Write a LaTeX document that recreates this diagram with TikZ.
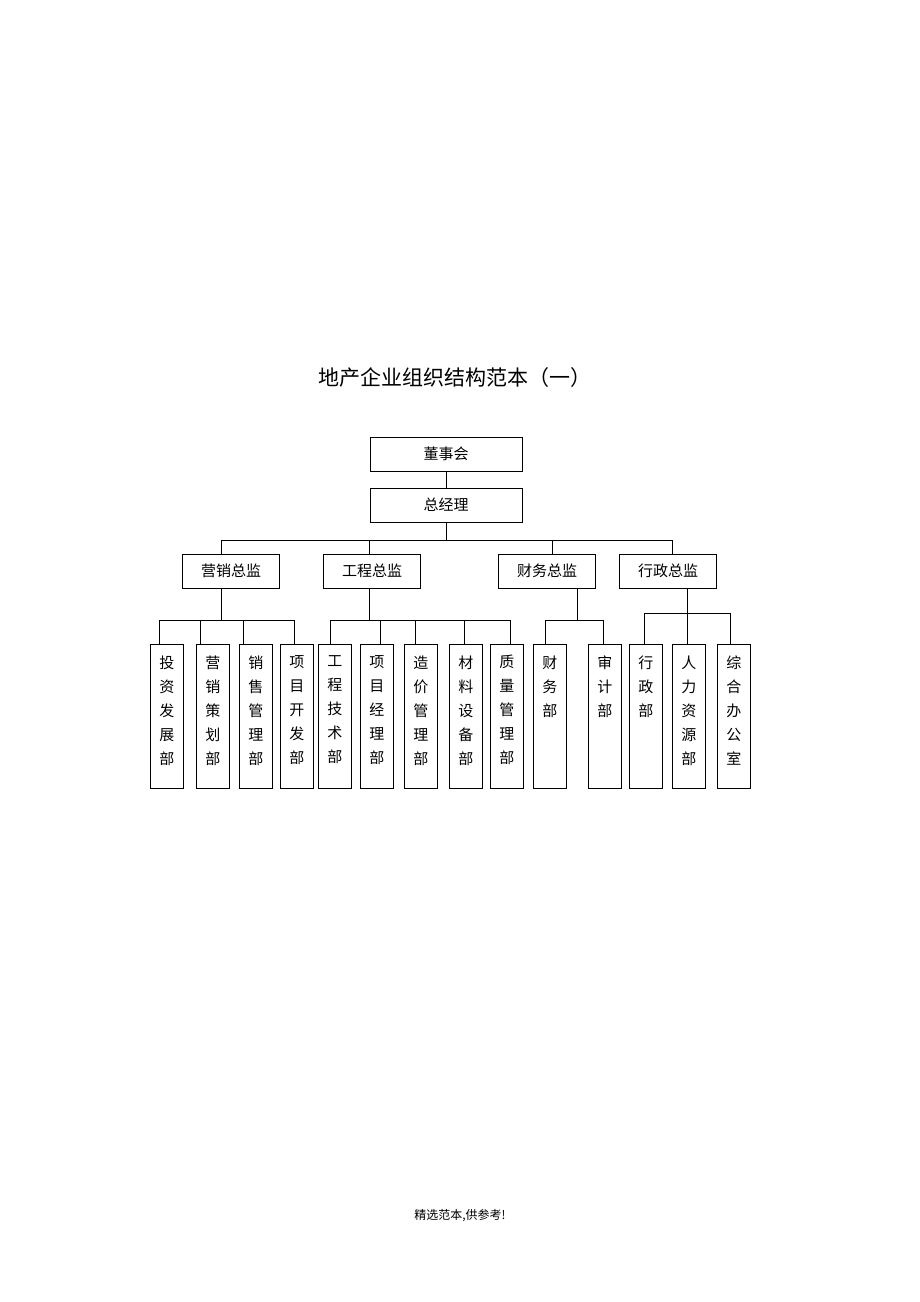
\documentclass[tikz,border=0pt]{standalone}
\usepackage{fontspec}
\setmainfont{Noto Sans CJK SC}
\newcommand{\vtext}[1]{\parbox[t][128pt][t]{18pt}{\vspace*{3pt}\centering\baselineskip=24pt #1}}
\begin{document}
\begin{tikzpicture}[x=1pt,y=-1pt,line width=0.9pt,
  box/.style={draw,minimum width=152pt,minimum height=34pt,inner sep=0pt,font=\fontsize{15}{15}\selectfont},
  head/.style={draw,minimum width=97pt,minimum height=34pt,inner sep=0pt,font=\fontsize{15}{15}\selectfont},
  leaf/.style={draw,anchor=north west,minimum width=33pt,minimum height=144pt,inner sep=0pt,text height=0pt,font=\fontsize{15}{15}\selectfont}]
\useasboundingbox (0,0) rectangle (920,1302);
\node[font=\fontsize{21}{21}\selectfont] (title) at (455,378) {地产企业组织结构范本（一）};
\node[box] (board) at (446,454) {董事会};
\node[box] (gm) at (446,505) {总经理};
\node[head] (mk) at (231,571) {营销总监};
\node[head] (en) at (372,571) {工程总监};
\node[head] (fi) at (547,571) {财务总监};
\node[head] (ad) at (668,571) {行政总监};
% leaves
\node[leaf] (l1) at (150,644) {\vtext{投\\资\\发\\展\\部}};
\node[leaf] (l2) at (196,644) {\vtext{营\\销\\策\\划\\部}};
\node[leaf] (l3) at (239,644) {\vtext{销\\售\\管\\理\\部}};
\node[leaf] (l4) at (280,644) {\vtext{项\\目\\开\\发\\部}};
\node[leaf] (l5) at (318,644) {\vtext{工\\程\\技\\术\\部}};
\node[leaf] (l6) at (360,644) {\vtext{项\\目\\经\\理\\部}};
\node[leaf] (l7) at (404,644) {\vtext{造\\价\\管\\理\\部}};
\node[leaf] (l8) at (449,644) {\vtext{材\\料\\设\\备\\部}};
\node[leaf] (l9) at (490,644) {\vtext{质\\量\\管\\理\\部}};
\node[leaf] (l10) at (533,644) {\vtext{财\\务\\部}};
\node[leaf] (l11) at (588,644) {\vtext{审\\计\\部}};
\node[leaf] (l12) at (629,644) {\vtext{行\\政\\部}};
\node[leaf] (l13) at (672,644) {\vtext{人\\力\\资\\源\\部}};
\node[leaf] (l14) at (717,644) {\vtext{综\\合\\办\\公\\室}};
% upper links
\draw (board) -- (gm);
\draw (gm.south) -- (gm.south |- 0,540);
\draw (mk.north -| 221,0) -- (221,540) -- (672,540) -- (ad.north -| 672,0);
\draw (en.north -| 369,0) -- (369,540);
\draw (fi.north -| 552,0) -- (552,540);
% marketing
\draw (mk.south -| 221,0) -- (221,620);
\draw (l1.north -| 159,0) -- (159,620) -- (294,620) -- (l4.north -| 294,0);
\draw (l2.north -| 200,0) -- (200,620);
\draw (l3.north -| 243,0) -- (243,620);
% engineering
\draw (en.south -| 369,0) -- (369,620);
\draw (l5.north -| 330,0) -- (330,620) -- (510,620) -- (l9.north -| 510,0);
\draw (l6.north -| 380,0) -- (380,620);
\draw (l7.north -| 415,0) -- (415,620);
\draw (l8.north -| 464,0) -- (464,620);
% finance
\draw (fi.south -| 577,0) -- (577,620);
\draw (l10.north -| 545,0) -- (545,620) -- (603,620) -- (l11.north -| 603,0);
% admin
\draw (ad.south -| 687,0) -- (l13.north -| 687,0);
\draw (l12.north -| 644,0) -- (644,613) -- (730,613) -- (l14.north -| 730,0);
\node[font=\fontsize{12}{12}\selectfont] (foot) at (460,1216) {精选范本,供参考!};
\end{tikzpicture}
\end{document}
